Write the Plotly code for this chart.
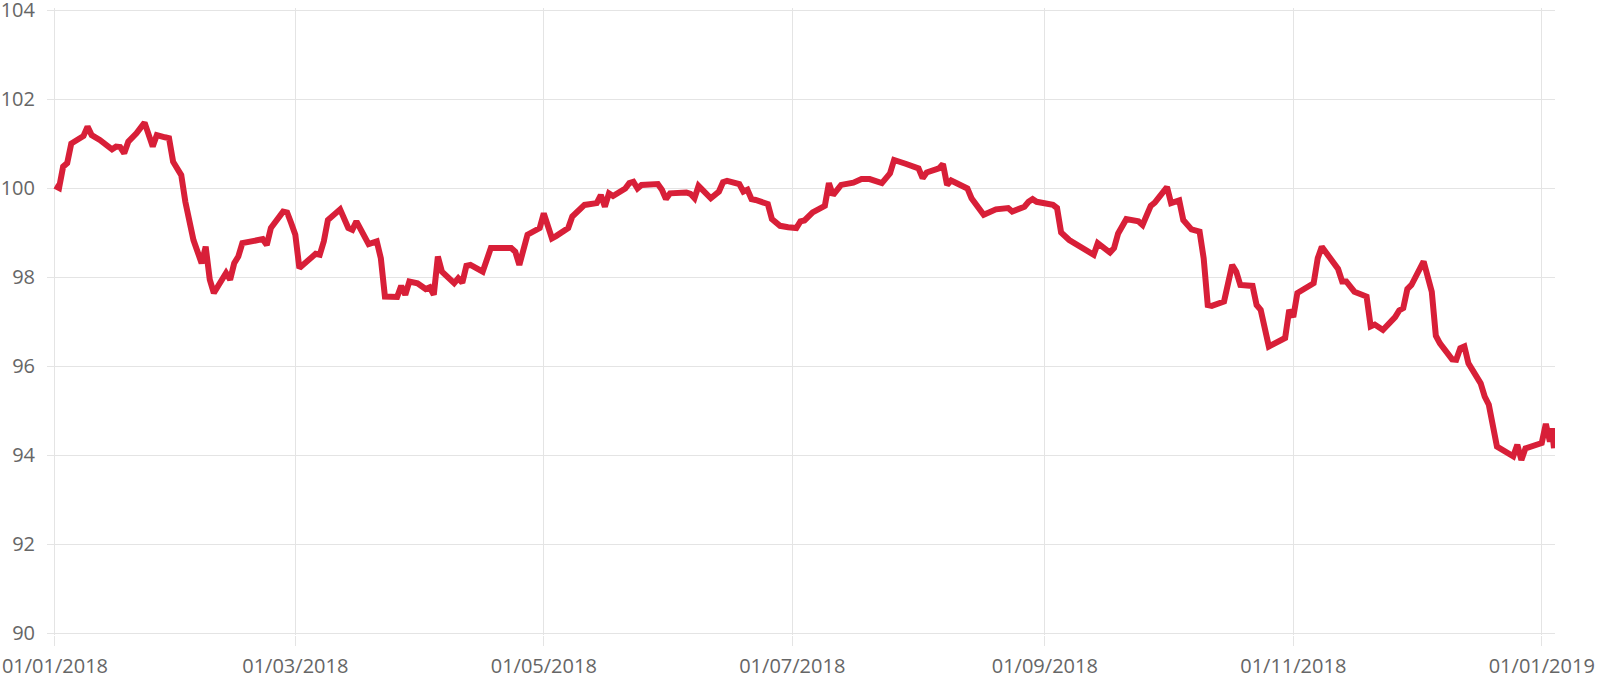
import pandas as pd
import plotly.graph_objects as go

start_date = "2018-01-01"
day_offsets = [
    0, 1, 2, 3, 4, 7, 8, 9, 11, 14, 15, 16, 17, 18, 20, 22, 24, 25, 27, 28,
    29, 30, 31, 32, 34, 36, 37, 38, 39, 42, 43, 44, 45, 46, 49, 51, 52, 53, 56, 57,
    58, 59, 60, 63, 64, 65, 66, 67, 70, 72, 73, 74, 77, 79, 80, 81, 84, 85, 86, 87,
    89, 91, 92, 93, 94, 95, 98, 99, 100, 101, 102, 105, 107, 108, 112, 113, 114, 116, 119, 120,
    122, 123, 126, 127, 129, 130, 133, 134, 135, 136, 137, 139, 140, 141, 142, 143, 144, 148, 149, 150,
    151, 155, 156, 157, 158, 161, 163, 164, 165, 168, 169, 170, 171, 172, 175, 176, 178, 180, 182, 183,
    184, 186, 189, 190, 191, 193, 196, 198, 200, 203, 205, 206, 207, 209, 212, 213, 214, 217, 218, 219,
    220, 224, 225, 228, 231, 234, 235, 238, 239, 240, 241, 243, 245, 246, 247, 249, 252, 255, 256, 259,
    260, 261, 263, 266, 267, 269, 270, 273, 274, 276, 277, 279, 281, 282, 283, 284, 287, 289, 290, 291,
    294, 295, 296, 298, 302, 303, 304, 305, 309, 310, 311, 313, 315, 316, 317, 319, 322, 323, 324, 326,
    329, 330, 331, 332, 333, 336, 338, 339, 340, 343, 344, 345, 346, 347, 350, 351, 352, 354, 358, 359,
    360, 361, 365, 366, 367, 367.5, 368,
]
values = [
    100.05, 100.00, 100.48, 100.56, 101.00, 101.17, 101.38, 101.19, 101.08, 100.87,
    100.93, 100.92, 100.78, 101.04, 101.23, 101.47, 100.93, 101.19, 101.14, 101.12,
    100.59, 100.41, 100.29, 99.69, 98.83, 98.31, 98.68, 97.94, 97.64, 98.09,
    97.94, 98.31, 98.46, 98.76, 98.83, 98.85, 98.72, 99.10, 99.47, 99.45,
    99.21, 98.95, 98.20, 98.46, 98.52, 98.50, 98.80, 99.28, 99.52, 99.10,
    99.06, 99.25, 98.74, 98.80, 98.42, 97.56, 97.55, 97.80, 97.60, 97.90,
    97.86, 97.73, 97.77, 97.60, 98.46, 98.12, 97.86, 97.97, 97.87, 98.25,
    98.27, 98.12, 98.65, 98.65, 98.65, 98.57, 98.27, 98.95, 99.10, 99.43,
    98.87, 98.92, 99.10, 99.36, 99.51, 99.62, 99.66, 99.84, 99.58, 99.88,
    99.82, 99.92, 99.99, 100.11, 100.14, 99.99, 100.07, 100.09, 99.96, 99.75,
    99.88, 99.90, 99.87, 99.77, 100.05, 99.77, 99.92, 100.13, 100.16, 100.09,
    99.92, 99.96, 99.75, 99.73, 99.64, 99.30, 99.15, 99.12, 99.10, 99.25,
    99.27, 99.45, 99.60, 100.11, 99.84, 100.07, 100.12, 100.20, 100.20, 100.11,
    100.33, 100.63, 100.61, 100.54, 100.44, 100.22, 100.35, 100.44, 100.54, 100.07,
    100.17, 99.99, 99.77, 99.40, 99.52, 99.55, 99.47, 99.58, 99.69, 99.75,
    99.69, 99.67, 99.62, 99.55, 99.00, 98.83, 98.65, 98.50, 98.76, 98.55,
    98.65, 98.98, 99.30, 99.25, 99.17, 99.60, 99.67, 100.02, 99.66, 99.72,
    99.28, 99.07, 99.02, 98.42, 97.37, 97.35, 97.45, 98.27, 98.12, 97.82,
    97.80, 97.37, 97.26, 96.44, 96.63, 97.26, 97.10, 97.64, 97.86, 98.42,
    98.68, 98.42, 98.18, 97.90, 97.90, 97.67, 97.56, 96.89, 96.93, 96.81,
    97.10, 97.25, 97.30, 97.73, 97.82, 98.35, 97.67, 96.68, 96.51, 96.15,
    96.14, 96.40, 96.44, 96.06, 95.61, 95.31, 95.13, 94.19, 93.97, 94.23,
    93.89, 94.15, 94.27, 94.70, 94.30, 94.60, 94.15,
]
x_tick_dates = ["2018-01-01", "2018-03-01", "2018-05-01", "2018-07-01",
                "2018-09-01", "2018-11-01", "2019-01-01"]
x_tick_labels = ["01/01/2018", "01/03/2018", "01/05/2018", "01/07/2018",
                 "01/09/2018", "01/11/2018", "01/01/2019"]
y_ticks = [90, 92, 94, 96, 98, 100, 102, 104]

dates = pd.to_datetime(start_date) + pd.to_timedelta(day_offsets, unit="D")

GRID = "#e4e4e4"
FONT = dict(family="Open Sans, Noto Sans, sans-serif", size=20, color="#666666")

fig = go.Figure()
fig.add_trace(go.Scatter(
    x=dates, y=values, mode="lines",
    line=dict(color="#d81f38", width=6),
    hoverinfo="x+y", showlegend=False,
    cliponaxis=False,
))
fig.update_layout(
    width=1603, height=679,
    margin=dict(l=47, r=48, t=8, b=44, autoexpand=False),
    paper_bgcolor="white", plot_bgcolor="white",
    font=FONT,
)
fig.update_xaxes(
    range=["2017-12-30 01:00", "2019-01-04 06:00"],
    tickmode="array", tickvals=x_tick_dates, ticktext=x_tick_labels,
    showgrid=True, gridcolor=GRID, gridwidth=1,
    ticks="outside", ticklen=10, tickcolor=GRID, tickwidth=1,
    ticklabelstandoff=3, ticklabeloverflow="allow",
    showline=False, zeroline=False, tickfont=FONT, automargin=False,
)
fig.update_yaxes(
    range=[89.955, 104.045], tickmode="array", tickvals=y_ticks,
    ticktext=[str(v) for v in y_ticks],
    showgrid=True, gridcolor=GRID, gridwidth=1,
    showline=False, zeroline=False, ticks="", ticklabelstandoff=11,
    ticklabeloverflow="allow",
    tickfont=FONT, automargin=False,
)
fig.write_html(
    "out.html",
    config={"displayModeBar": False},
    post_script="document.body.style.margin='0';document.body.style.padding='0';",
)
